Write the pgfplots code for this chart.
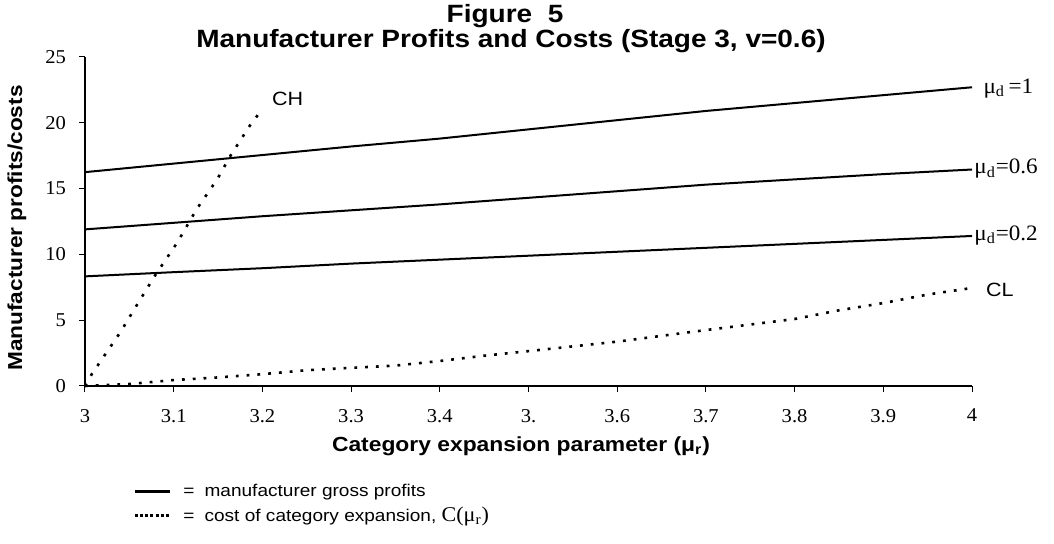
\documentclass[border=0pt]{standalone}
\usepackage{pgfplots}
\pgfplotsset{compat=1.18}
\usepackage{fontspec}
\setmainfont{Liberation Sans}[FakeStretch=1.12]
\newfontfamily\serifx{Liberation Serif}[FakeStretch=1.05]

\begin{document}
\begin{tikzpicture}
\path[use as bounding box] (-42.5pt,-79pt) rectangle (484.5pt,193pt);
\begin{axis}[
  at={(0,0)}, anchor=south west,
  width=443.5pt, height=164.5pt, scale only axis,
  xmin=3, xmax=4, ymin=0, ymax=25,
  axis x line=bottom, axis y line=left,
  axis line style={-, line width=0.6pt},
  tick align=outside, major tick length=3pt,
  tick style={black, line width=0.5pt},
  xtick={3,3.1,3.2,3.3,3.4,3.5,3.6,3.7,3.8,3.9,4},
  xticklabels={3,3.1,3.2,3.3,3.4,3.,3.6,3.7,3.8,3.9,4},
  ytick={0,5,10,15,20,25},
  yticklabels={0,5,10,15,20,25},
  ticklabel style={font=\serifx\fontsize{9.8}{11}\selectfont},
  xticklabel style={yshift=-5pt},
  yticklabel style={xshift=-3pt},
  clip=false,
  legend style={at={(axis description cs:0.054,-0.29)}, anchor=north west,
    draw=none, fill=none, font=\fontsize{8.5}{10}\selectfont,
    inner sep=0pt, row sep=2pt, nodes={inner sep=1pt}},
  legend cell align=left,
  legend image code/.code={\draw[#1] (0pt,0pt) -- (17.5pt,0pt);},
]
\addlegendimage{black, line width=1.6pt}
\addlegendentry{\hspace{5pt}=\hspace{5pt}manufacturer gross profits}
\addlegendimage{black, line width=1.5pt, dash pattern=on 1.5pt off 1.1pt}
\addlegendentry{\hspace{5pt}=\hspace{5pt}cost of category expansion, {\serifx\fontsize{10.5}{11}\selectfont C(μ\textsubscript{r})}}

% mu_d = 1
\addplot[black, line width=1pt] table {
x y
3.0 16.25
3.1 16.9
3.2 17.55
3.3 18.2
3.4 18.8
3.5 19.5
3.6 20.2
3.7 20.9
3.8 21.5
3.9 22.1
4.0 22.7
};
% mu_d = 0.6
\addplot[black, line width=1pt] table {
x y
3.0 11.9
3.1 12.4
3.2 12.9
3.3 13.35
3.4 13.8
3.5 14.3
3.6 14.8
3.7 15.3
3.8 15.7
3.9 16.1
4.0 16.45
};
% mu_d = 0.2
\addplot[black, line width=1pt] table {
x y
3.0 8.33
3.1 8.65
3.2 8.95
3.3 9.3
3.4 9.6
3.5 9.9
3.6 10.2
3.7 10.5
3.8 10.8
3.9 11.1
4.0 11.4
};
% CL
\addplot[black, line width=1.3pt, dash pattern=on 1.4pt off 4pt] table {
x y
3.0 0
3.05 0.15
3.1 0.45
3.15 0.65
3.2 0.9
3.25 1.2
3.3 1.38
3.35 1.55
3.4 1.9
3.45 2.3
3.5 2.65
3.6 3.37
3.7 4.25
3.8 5.09
3.85 5.75
3.9 6.3
3.95 6.95
4.0 7.45
};
% CH
\addplot[black, line width=1.3pt, dash pattern=on 1.4pt off 4.5pt] table {
x y
3.0 0
3.0076 0.9
3.04 4.1
3.058 6.1
3.079 8.4
3.104 10.9
3.126 13.45
3.149 15.7
3.164 17.5
3.186 19.8
3.2 21.05
};

\node[anchor=west, font=\fontsize{9.6}{11}\selectfont] at (axis cs:3.203,21.8) {CH};
\node[anchor=west, font=\fontsize{9.6}{11}\selectfont] at (axis cs:4.008,7.3) {CL};
\node[anchor=west, font=\serifx\fontsize{11}{12}\selectfont] at (axis cs:4.005,22.6) {μ\textsubscript{d}\,=1};
\node[anchor=west, inner sep=1pt, font=\serifx\fontsize{11}{12}\selectfont] at (axis cs:4.0,16.5) {μ\textsubscript{d}=0.6};
\node[anchor=west, inner sep=1pt, font=\serifx\fontsize{11}{12}\selectfont] at (axis cs:4.0,11.45) {μ\textsubscript{d}=0.2};
\end{axis}
\node[font=\bfseries\fontsize{12.5}{13}\selectfont] at (210pt,185pt) {Figure\ \ 5};
\node[font=\bfseries\fontsize{12.5}{13}\selectfont] at (213pt,172.5pt) {Manufacturer Profits and Costs (Stage 3, v=0.6)};
\node[font=\bfseries\fontsize{10.2}{11}\selectfont] at (218pt,-30pt) {Category expansion parameter (μ\textsubscript{r})};
\node[font=\bfseries\fontsize{10.1}{11}\selectfont, rotate=90] at (-34pt,79pt) {Manufacturer profits/costs};
\end{tikzpicture}
\end{document}
